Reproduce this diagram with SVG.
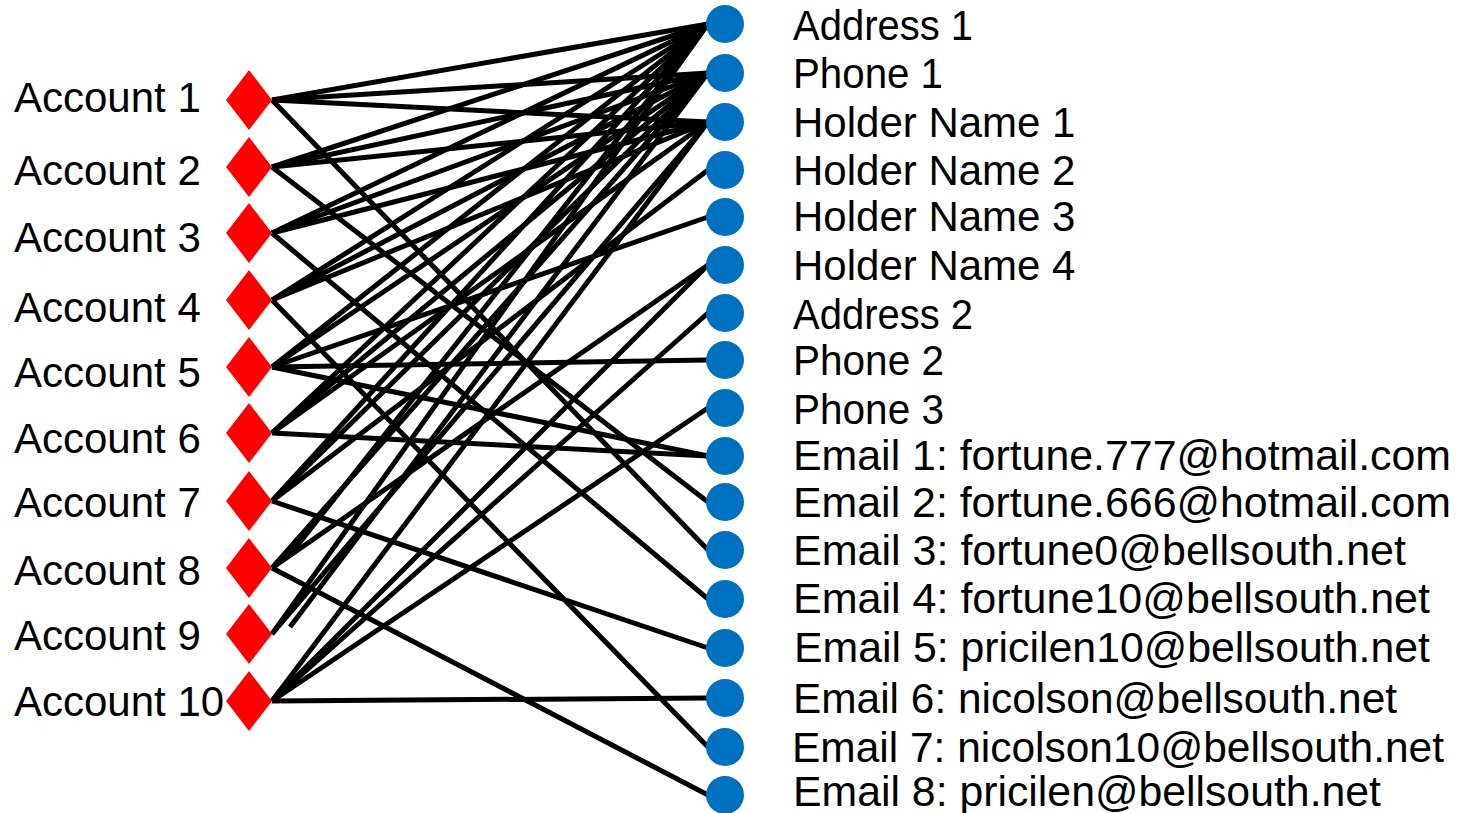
<svg xmlns="http://www.w3.org/2000/svg" width="1461" height="813" viewBox="0 0 1461 813">
  <style>
    .edge { stroke: #000; stroke-width: 5; fill: none; }
    .acct { fill: #ff0000; }
    .attr { fill: #0070c0; }
    .lbl { font-family: "Liberation Sans", Arial, sans-serif; font-size: 42px; fill: #000; }
  </style>
  <defs>
    <polygon id="dia" points="0,-30 23,0 0,30 -23,0"/>
  </defs>
  <rect width="1461" height="813" fill="#fff"/>

  <!-- account-to-attribute links -->
  <g id="connectors" class="edge">
    <!-- Account 1 -->
    <line x1="272" y1="100" x2="708" y2="24"/>
    <line x1="272" y1="100" x2="708" y2="73"/>
    <line x1="272" y1="100" x2="708" y2="122"/>
    <line x1="272" y1="100" x2="708" y2="550"/>
    <!-- Account 2 -->
    <line x1="272" y1="167" x2="708" y2="24"/>
    <line x1="272" y1="167" x2="708" y2="73"/>
    <line x1="272" y1="167" x2="708" y2="122"/>
    <line x1="272" y1="167" x2="708" y2="502"/>
    <!-- Account 3 -->
    <line x1="272" y1="233" x2="708" y2="24"/>
    <line x1="272" y1="233" x2="708" y2="73"/>
    <line x1="272" y1="233" x2="708" y2="122"/>
    <line x1="272" y1="233" x2="708" y2="599"/>
    <!-- Account 4 -->
    <line x1="272" y1="300" x2="708" y2="24"/>
    <line x1="272" y1="300" x2="708" y2="73"/>
    <line x1="272" y1="300" x2="708" y2="122"/>
    <line x1="272" y1="300" x2="708" y2="747"/>
    <!-- Account 5 -->
    <line x1="272" y1="367" x2="708" y2="24"/>
    <line x1="272" y1="367" x2="708" y2="73"/>
    <line x1="272" y1="367" x2="708" y2="217"/>
    <line x1="272" y1="367" x2="708" y2="360"/>
    <line x1="272" y1="367" x2="708" y2="456"/>
    <!-- Account 6 -->
    <line x1="272" y1="433" x2="708" y2="24"/>
    <line x1="272" y1="433" x2="708" y2="73"/>
    <line x1="272" y1="433" x2="708" y2="122"/>
    <line x1="272" y1="433" x2="708" y2="456"/>
    <!-- Account 7 -->
    <line x1="272" y1="501" x2="708" y2="24"/>
    <line x1="272" y1="501" x2="708" y2="73"/>
    <line x1="272" y1="501" x2="708" y2="170"/>
    <line x1="272" y1="501" x2="708" y2="648"/>
    <!-- Account 8 -->
    <line x1="290" y1="555" x2="708" y2="24"/>
    <line x1="272" y1="568" x2="708" y2="73"/>
    <line x1="272" y1="568" x2="708" y2="265"/>
    <line x1="272" y1="568" x2="708" y2="795"/>
    <!-- Account 9 -->
    <line x1="272" y1="634" x2="708" y2="24"/>
    <line x1="290" y1="627" x2="708" y2="73"/>
    <line x1="272" y1="634" x2="708" y2="122"/>
    <!-- Account 10 -->
    <line x1="272" y1="701" x2="708" y2="122"/>
    <line x1="272" y1="701" x2="708" y2="265"/>
    <line x1="272" y1="701" x2="708" y2="313"/>
    <line x1="272" y1="701" x2="708" y2="408"/>
    <line x1="272" y1="701" x2="708" y2="698"/>
  </g>

  <!-- accounts -->
  <g id="account-1"><use href="#dia" x="249" y="100" class="acct"/><text class="lbl" x="14" y="112">Account 1</text></g>
  <g id="account-2"><use href="#dia" x="249" y="167" class="acct"/><text class="lbl" x="14" y="185">Account 2</text></g>
  <g id="account-3"><use href="#dia" x="249" y="233" class="acct"/><text class="lbl" x="14" y="252">Account 3</text></g>
  <g id="account-4"><use href="#dia" x="249" y="300" class="acct"/><text class="lbl" x="14" y="322">Account 4</text></g>
  <g id="account-5"><use href="#dia" x="249" y="367" class="acct"/><text class="lbl" x="14" y="387">Account 5</text></g>
  <g id="account-6"><use href="#dia" x="249" y="433" class="acct"/><text class="lbl" x="14" y="453">Account 6</text></g>
  <g id="account-7"><use href="#dia" x="249" y="501" class="acct"/><text class="lbl" x="14" y="517">Account 7</text></g>
  <g id="account-8"><use href="#dia" x="249" y="568" class="acct"/><text class="lbl" x="14" y="585">Account 8</text></g>
  <g id="account-9"><use href="#dia" x="249" y="634" class="acct"/><text class="lbl" x="14" y="650">Account 9</text></g>
  <g id="account-10"><use href="#dia" x="249" y="701" class="acct"/><text class="lbl" x="14" y="716">Account 10</text></g>

  <!-- attributes -->
  <g id="address-1"><circle class="attr" cx="725" cy="24" r="19"/><text class="lbl" x="793" y="40" textLength="180" lengthAdjust="spacingAndGlyphs">Address 1</text></g>
  <g id="phone-1"><circle class="attr" cx="725" cy="73" r="19"/><text class="lbl" x="793" y="88" textLength="150" lengthAdjust="spacingAndGlyphs">Phone 1</text></g>
  <g id="holder-1"><circle class="attr" cx="725" cy="122" r="19"/><text class="lbl" x="793" y="137">Holder Name 1</text></g>
  <g id="holder-2"><circle class="attr" cx="725" cy="170" r="19"/><text class="lbl" x="793" y="185">Holder Name 2</text></g>
  <g id="holder-3"><circle class="attr" cx="725" cy="217" r="19"/><text class="lbl" x="793" y="231">Holder Name 3</text></g>
  <g id="holder-4"><circle class="attr" cx="725" cy="265" r="19"/><text class="lbl" x="793" y="280">Holder Name 4</text></g>
  <g id="address-2"><circle class="attr" cx="725" cy="313" r="19"/><text class="lbl" x="793" y="329" textLength="180" lengthAdjust="spacingAndGlyphs">Address 2</text></g>
  <g id="phone-2"><circle class="attr" cx="725" cy="360" r="19"/><text class="lbl" x="793" y="375" textLength="151" lengthAdjust="spacingAndGlyphs">Phone 2</text></g>
  <g id="phone-3"><circle class="attr" cx="725" cy="408" r="19"/><text class="lbl" x="793" y="424" textLength="151" lengthAdjust="spacingAndGlyphs">Phone 3</text></g>
  <g id="email-1"><circle class="attr" cx="725" cy="456" r="19"/><text class="lbl" x="793" y="470" textLength="658" lengthAdjust="spacingAndGlyphs">Email 1: fortune.777@hotmail.com</text></g>
  <g id="email-2"><circle class="attr" cx="725" cy="502" r="19"/><text class="lbl" x="793" y="517" textLength="658" lengthAdjust="spacingAndGlyphs">Email 2: fortune.666@hotmail.com</text></g>
  <g id="email-3"><circle class="attr" cx="725" cy="550" r="19"/><text class="lbl" x="793" y="565" textLength="613" lengthAdjust="spacingAndGlyphs">Email 3: fortune0@bellsouth.net</text></g>
  <g id="email-4"><circle class="attr" cx="725" cy="599" r="19"/><text class="lbl" x="793" y="613" textLength="637" lengthAdjust="spacingAndGlyphs">Email 4: fortune10@bellsouth.net</text></g>
  <g id="email-5"><circle class="attr" cx="725" cy="648" r="19"/><text class="lbl" x="794" y="662" textLength="636" lengthAdjust="spacingAndGlyphs">Email 5: pricilen10@bellsouth.net</text></g>
  <g id="email-6"><circle class="attr" cx="725" cy="698" r="19"/><text class="lbl" x="793" y="713" textLength="604" lengthAdjust="spacingAndGlyphs">Email 6: nicolson@bellsouth.net</text></g>
  <g id="email-7"><circle class="attr" cx="725" cy="747" r="19"/><text class="lbl" x="792" y="762" textLength="652" lengthAdjust="spacingAndGlyphs">Email 7: nicolson10@bellsouth.net</text></g>
  <g id="email-8"><circle class="attr" cx="725" cy="795" r="19"/><text class="lbl" x="793" y="806" textLength="588" lengthAdjust="spacingAndGlyphs">Email 8: pricilen@bellsouth.net</text></g>
</svg>
